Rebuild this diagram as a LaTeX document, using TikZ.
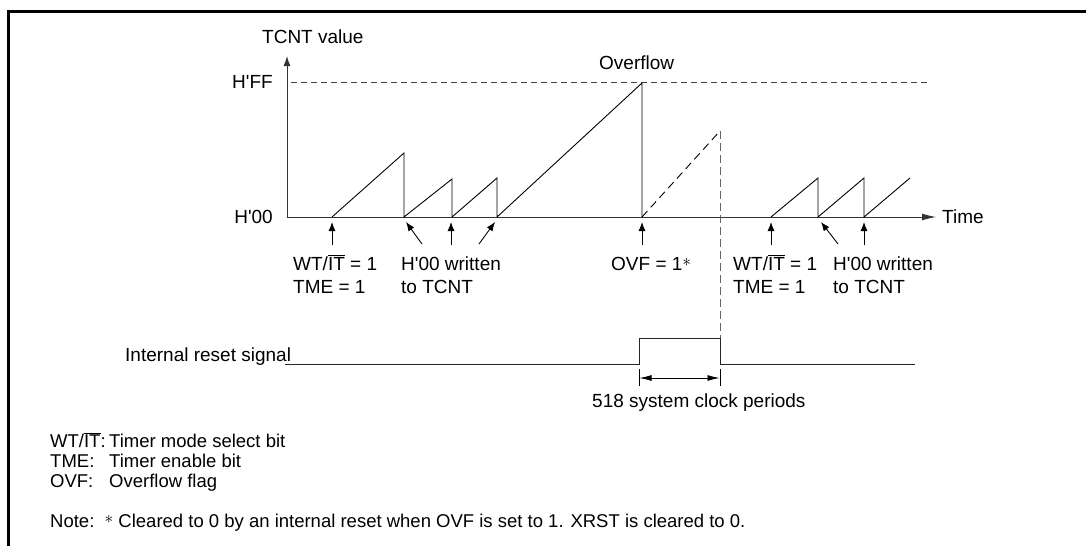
\documentclass[tikz,border=0pt]{standalone}
\usepackage{fontspec}
\setmainfont{Liberation Sans}
\usetikzlibrary{arrows.meta}
\newcommand\nIT{$\overline{\mbox{IT}}$}
\newcommand\myast{\raisebox{0.35ex}{$\ast$}}
\newcommand\q{\textquotesingle}
\begin{document}
\begin{tikzpicture}[x=1pt,y=-1pt,
  lbl/.style={anchor=base west,inner sep=0pt,font=\fontsize{19}{22}\selectfont},
  lblr/.style={anchor=base east,inner sep=0pt,font=\fontsize{19}{22}\selectfont},
  leg/.style={anchor=base west,inner sep=0pt,font=\fontsize{18.5}{22}\selectfont},
  wave/.style={line width=0.9pt,line join=miter},
  axisline/.style={line width=1pt,draw=black!80},
  ptr/.style={-{Latex[length=9pt,width=7pt]},line width=0.9pt},
  dash1/.style={line width=0.9pt,dash pattern=on 6pt off 4pt,draw=black!75},
  dash2/.style={line width=0.9pt,dash pattern=on 8pt off 5pt},
  frame/.style={line width=2.5pt}]
\useasboundingbox (0,0) rectangle (1086,546);
% frame
\draw[frame] (8.5,546) -- (8.5,11.5) -- (1086,11.5);
% axes
\coordinate (O) at (287,217);
\coordinate (Ytop) at (287,56);
\coordinate (Xend) at (936,217);
\draw[axisline,-{Latex[length=10pt,width=7pt]}] (O) -- (Ytop);
\draw[axisline,-{Latex[length=14pt,width=7pt]}] (O) -- (Xend);
\coordinate (FFl) at (291,82);
\coordinate (FFr) at (928,82);
\draw[dash1] (FFl) -- (FFr);
% labels
\node[lbl] (tcnt) at (262,43.5) {TCNT value};
\node[lbl] (ovfl) at (599,69) {Overflow};
\node[lblr] (hff) at (273,88.5) {H\q FF};
\node[lblr] (h00) at (273,223.5) {H\q 00};
\node[lbl] (time) at (942,223.5) {Time};
% sawtooth
\draw[wave] (332,217) -- (404,153) -- (404,217) -- (452,179) -- (452,217) -- (497,178) -- (497,217) -- (642,83) -- (642,217);
\draw[dash2] (642,217) -- (720,131);
\draw[line width=0.9pt,draw=black!60,dash pattern=on 8pt off 4pt] (720,131) -- (720,338);
\draw[wave] (771,217) -- (818,178) -- (818,217) -- (864,178) -- (864,217) -- (910,178);
% pointer arrows
\draw[ptr] (332,245) -- (332,222);
\draw[ptr] (422,244) -- (406,222);
\draw[ptr] (451,245) -- (451,222);
\draw[ptr] (479,244) -- (495,222);
\draw[ptr] (642,245) -- (642,222);
\draw[ptr] (771,245) -- (771,222);
\draw[ptr] (838,244) -- (821,222);
\draw[ptr] (864,245) -- (864,222);
% event labels
\node[lbl] (wt1) at (293,270) {WT/\nIT\ = 1};
\node[lbl] (tme1) at (293,293) {TME = 1};
\node[lbl] (hw1) at (401,270) {H\q 00 written};
\node[lbl] (tc1) at (401,293) {to TCNT};
\node[lbl] (ovf1) at (611,270) {OVF = 1\myast};
\node[lbl] (wt2) at (733,270) {WT/\nIT\ = 1};
\node[lbl] (tme2) at (733,293) {TME = 1};
\node[lbl] (hw2) at (833,270) {H\q 00 written};
\node[lbl] (tc2) at (833,293) {to TCNT};
% reset signal
\node[lbl] (rst) at (125,361) {Internal reset signal};
\draw[wave,draw=black!85] (285,364) -- (639,364) -- (639,338) -- (720,338) -- (720,364) -- (915,364);
\draw[line width=0.8pt] (639,369) -- (639,386);
\draw[line width=0.8pt] (720,369) -- (720,386);
\draw[line width=0.9pt,{Latex[length=12pt,width=6pt]}-{Latex[length=12pt,width=6pt]}] (639.5,378) -- (719.5,378);
\node[lbl] (clk) at (592,407.5) {518 system clock periods};
% legend
\node[leg] (l1a) at (50,447.5) {WT/\nIT:};
\node[leg] (l1b) at (109,447.5) {Timer mode select bit};
\node[leg] (l2a) at (50,467.5) {TME:};
\node[leg] (l2b) at (109,467.5) {Timer enable bit};
\node[leg] (l3a) at (50,487.5) {OVF:};
\node[leg] (l3b) at (109,487.5) {Overflow flag};
\node[leg] (note) at (50,527) {Note:\ \ \myast\ Cleared to 0 by an internal reset when OVF is set to 1. XRST is cleared to 0.};
\end{tikzpicture}
\end{document}
